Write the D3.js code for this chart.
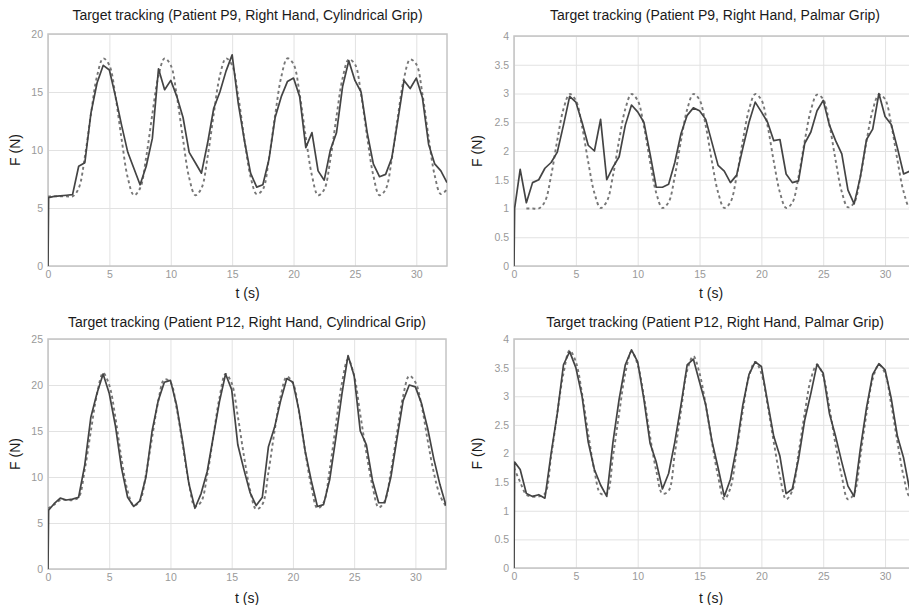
<!DOCTYPE html>
<html>
<head>
<meta charset="utf-8">
<script src="https://cdn.jsdelivr.net/npm/d3@7"></script>
<style>
  body { margin: 0; background: #fff; }
</style>
</head>
<body>
<svg id="chart" width="909" height="605"></svg>
<script>
const titles = [
  "Target tracking (Patient P9, Right Hand, Cylindrical Grip)",
  "Target tracking (Patient P9, Right Hand, Palmar Grip)",
  "Target tracking (Patient P12, Right Hand, Cylindrical Grip)",
  "Target tracking (Patient P12, Right Hand, Palmar Grip)"
];
const xTicks = [0, 5, 10, 15, 20, 25, 30];
const yTicksP9Cyl = [0, 5, 10, 15, 20];
const yTicksP12Cyl = [0, 5, 10, 15, 20, 25];
const yTicksPalmar = [0, 0.5, 1, 1.5, 2, 2.5, 3, 3.5, 4];

// sample times (s)
const tTarget = [0, 0.5, 1, 1.5, 2, 2.5, 3, 3.5, 4, 4.5, 5, 5.5, 6, 6.5, 7, 7.5, 8, 8.5, 9, 9.5,
  10, 10.5, 11, 11.5, 12, 12.5, 13, 13.5, 14, 14.5, 15, 15.5, 16, 16.5, 17, 17.5, 18, 18.5, 19, 19.5,
  20, 20.5, 21, 21.5, 22, 22.5, 23, 23.5, 24, 24.5, 25, 25.5, 26, 26.5, 27, 27.5, 28, 28.5, 29, 29.5,
  30, 30.5, 31, 31.5, 32, 32.5];
const tMeasured = [0, 0.05].concat(tTarget.slice(1));

// P9 cylindrical
const targetP9Cyl = [6.0, 6.0, 6.0, 6.0, 6.0,
  6.7, 9.4, 13.1, 16.4, 17.9, 17.3, 14.6, 10.9, 7.6, 6.1,
  6.7, 9.4, 13.1, 16.4, 17.9, 17.3, 14.6, 10.9, 7.6, 6.1,
  6.7, 9.4, 13.1, 16.4, 17.9, 17.3, 14.6, 10.9, 7.7, 6.2,
  6.6, 9.3, 13.0, 16.3, 17.9, 17.4, 14.8, 11.1, 7.8, 6.1,
  6.6, 9.2, 12.9, 16.2, 17.8, 17.4, 14.8, 11.1, 7.8, 6.1,
  6.6, 9.2, 12.9, 16.2, 17.8, 17.4, 14.8, 11.1, 7.8, 6.2,
  6.6];
const measuredP9Cyl = [0, 5.9, 6.0, 6.05, 6.1, 6.15, 8.6, 8.9, 13.2, 15.8, 17.3, 16.9, 14.6, 12.1, 9.8, 8.4,
  7.0, 8.6, 11.0, 17.0, 15.2, 16.0, 14.6, 12.8, 9.8, 8.9, 8.0, 10.6, 13.6, 15.0, 16.8, 18.2, 14.0, 10.8,
  8.0, 6.8, 7.0, 9.2, 12.8, 14.6, 15.9, 16.2, 14.6, 10.2, 11.5, 8.2, 7.4, 10.0, 11.5, 15.5, 17.7, 16.0,
  15.0, 11.5, 8.8, 7.7, 7.9, 9.3, 12.6, 16.0, 15.3, 16.2, 14.5, 10.5, 8.8, 8.2, 7.2];

// P9 palmar
const targetP9Pal = [null, null, 1.0, 1.0, 1.0,
  1.12, 1.57, 2.19, 2.73, 2.99, 2.88, 2.43, 1.81, 1.27, 1.01,
  1.12, 1.57, 2.19, 2.73, 2.99, 2.88, 2.43, 1.81, 1.27, 1.01,
  1.11, 1.56, 2.18, 2.72, 2.99, 2.89, 2.44, 1.82, 1.28, 1.01,
  1.11, 1.56, 2.18, 2.72, 2.99, 2.89, 2.44, 1.82, 1.28, 1.01,
  1.1, 1.55, 2.17, 2.71, 2.98, 2.9, 2.46, 1.84, 1.29, 1.02,
  1.1, 1.55, 2.17, 2.71, 2.98, 2.9, 2.46, 1.84, 1.29, 1.02,
  1.1];
const measuredP9Pal = [0, 1.0, 1.68, 1.1, 1.45, 1.5, 1.7, 1.8, 1.98, 2.45, 2.95, 2.85, 2.5, 2.1, 2.0, 2.55,
  1.5, 1.72, 1.9, 2.45, 2.8, 2.68, 2.5, 1.95, 1.37, 1.37, 1.42, 1.8, 2.3, 2.62, 2.75, 2.7, 2.55, 2.15,
  1.75, 1.65, 1.45, 1.58, 2.05, 2.5, 2.85, 2.68, 2.5, 2.18, 2.2, 1.6, 1.45, 1.48, 2.13, 2.33, 2.7, 2.88,
  2.45, 2.18, 1.95, 1.32, 1.08, 1.55, 2.2, 2.38, 3.0, 2.6, 2.46, 2.05, 1.6, 1.65, 1.4];

// P12 cylindrical
const targetP12Cyl = [6.6, 7.0, 7.5, 7.5, 7.5,
  7.8, 10.8, 15.0, 19.0, 21.3, 20.0, 16.5, 12.0, 8.5, 6.9,
  7.4, 10.3, 14.3, 18.2, 20.6, 20.3, 17.5, 13.5, 9.4, 6.8,
  7.3, 10.2, 14.4, 18.6, 21.2, 20.2, 16.6, 12.3, 8.6, 6.5,
  7.0, 10.5, 15.0, 18.8, 20.9, 20.2, 17.0, 12.8, 9.0, 6.6,
  7.2, 10.8, 15.6, 20.2, 22.8, 21.0, 16.8, 12.6, 9.0, 6.7,
  7.4, 10.6, 14.8, 18.8, 21.0, 20.3, 17.8, 14.0, 10.5, 8.0,
  6.8];
const measuredP12Cyl = [0, 6.4, 7.1, 7.7, 7.5, 7.6, 7.8, 11.3, 16.5, 19.1, 21.2, 19.1, 15.6, 11.0, 7.8, 6.8,
  7.4, 10.0, 15.0, 18.3, 20.3, 20.5, 17.8, 13.8, 9.3, 6.6, 8.2, 10.6, 14.4, 18.2, 21.2, 19.5, 13.5, 10.8,
  8.3, 6.9, 7.8, 13.3, 15.4, 18.3, 20.7, 20.3, 17.2, 12.8, 9.6, 6.8, 7.0, 9.7, 14.2, 19.0, 23.2, 21.0,
  15.0, 13.5, 9.6, 7.2, 7.2, 10.0, 14.2, 18.3, 20.0, 19.8, 18.0, 15.3, 12.0, 9.2, 6.9];

// P12 palmar
const targetP12Pal = [1.75, 1.5, 1.28, 1.25, 1.25,
  1.3, 1.95, 2.7, 3.4, 3.8, 3.6, 3.05, 2.35, 1.7, 1.3,
  1.3, 1.95, 2.7, 3.4, 3.78, 3.55, 3.0, 2.3, 1.7, 1.3,
  1.35, 2.0, 2.75, 3.45, 3.7, 3.4, 2.85, 2.2, 1.6, 1.2,
  1.4, 2.05, 2.75, 3.35, 3.6, 3.4, 2.85, 2.2, 1.6, 1.2,
  1.35, 2.0, 2.7, 3.3, 3.55, 3.35, 2.8, 2.15, 1.6, 1.2,
  1.3, 1.95, 2.7, 3.3, 3.55, 3.4, 2.85, 2.2, 1.6, 1.25,
  1.3];
const measuredP12Pal = [0, 1.85, 1.72, 1.3, 1.25, 1.28, 1.22, 2.0, 2.7, 3.55, 3.78, 3.5, 3.0, 2.2, 1.72, 1.45,
  1.25, 2.2, 2.95, 3.55, 3.81, 3.6, 2.95, 2.18, 1.85, 1.38, 1.65, 2.2, 2.85, 3.55, 3.65, 3.25, 2.85, 2.22,
  1.75, 1.25, 1.55, 2.12, 2.85, 3.38, 3.6, 3.52, 2.9, 2.3, 1.95, 1.3, 1.38, 1.9, 2.58, 3.05, 3.56, 3.4,
  2.7, 2.3, 1.85, 1.43, 1.25, 2.08, 2.8, 3.38, 3.57, 3.46, 2.96, 2.3, 1.92, 1.35, 1.2];

const panels = [
  { title: titles[0], left: 48, top: 34, width: 399, height: 232, yTicks: yTicksP9Cyl, target: targetP9Cyl, measured: measuredP9Cyl, titleY: 20, labelY: 298, ylabelX: 15 },
  { title: titles[1], left: 514, top: 36, width: 402, height: 230, yTicks: yTicksPalmar, target: targetP9Pal, measured: measuredP9Pal, titleY: 20, labelY: 298, ylabelX: 477 },
  { title: titles[2], left: 48, top: 339, width: 398, height: 230, yTicks: yTicksP12Cyl, target: targetP12Cyl, measured: measuredP12Cyl, titleY: 327, labelY: 603, ylabelX: 15 },
  { title: titles[3], left: 514, top: 339, width: 402, height: 229, yTicks: yTicksPalmar, target: targetP12Pal, measured: measuredP12Pal, titleY: 327, labelY: 603, ylabelX: 477 }
];

const svg = d3.select("#chart");
const font = "'Liberation Sans', Arial, Helvetica, sans-serif";

panels.forEach((p, i) => {
  const x = d3.scaleLinear().domain([0, 32.5]).range([0, p.width]);
  const y = d3.scaleLinear().domain([0, d3.max(p.yTicks)]).range([p.height, 0]);

  const g = svg.append("g").attr("transform", `translate(${p.left}, ${p.top})`);

  svg.append("clipPath").attr("id", "clip" + i)
    .append("rect").attr("width", p.width).attr("height", p.height);

  // grid + tick labels
  g.append("g")
    .attr("transform", `translate(0, ${p.height})`)
    .call(d3.axisBottom(x).tickValues(xTicks).tickSize(-p.height).tickPadding(5).tickFormat(d3.format("d")))
    .call(a => a.select(".domain").remove())
    .call(a => a.selectAll(".tick line").attr("stroke", "#e2e2e2"))
    .call(a => a.selectAll("text").attr("fill", "#999").attr("font-size", 10.5).attr("font-family", font));

  g.append("g")
    .call(d3.axisLeft(y).tickValues(p.yTicks).tickSize(-p.width).tickPadding(5).tickFormat(d => String(d)))
    .call(a => a.select(".domain").remove())
    .call(a => a.selectAll(".tick line").attr("stroke", "#e2e2e2"))
    .call(a => a.selectAll("text").attr("fill", "#999").attr("font-size", 10.5).attr("font-family", font));

  g.append("rect")
    .attr("width", p.width)
    .attr("height", p.height)
    .attr("fill", "none")
    .attr("stroke", "#c4c4c4")
    .attr("stroke-width", 1.5);

  const lines = g.append("g").attr("clip-path", `url(#clip${i})`);

  const targetLine = d3.line()
    .defined(d => d[1] != null)
    .x(d => x(d[0]))
    .y(d => y(d[1]))
    .curve(d3.curveCatmullRom);

  const measuredLine = d3.line()
    .x(d => x(d[0]))
    .y(d => y(d[1]));

  lines.append("path")
    .datum(tTarget.map((t, k) => [t, p.target[k]]))
    .attr("d", targetLine)
    .attr("fill", "none")
    .attr("stroke", "#777")
    .attr("stroke-width", 1.9)
    .attr("stroke-dasharray", "3,3");

  lines.append("path")
    .datum(tMeasured.map((t, k) => [t, p.measured[k]]))
    .attr("d", measuredLine)
    .attr("fill", "none")
    .attr("stroke", "#444")
    .attr("stroke-width", 1.7)
    .attr("stroke-linejoin", "round");

  // titles and axis labels
  svg.append("text")
    .attr("x", p.left + p.width / 2)
    .attr("y", p.titleY)
    .attr("text-anchor", "middle")
    .attr("font-family", font)
    .attr("font-size", 14)
    .attr("fill", "#1a1a1a")
    .text(p.title);

  svg.append("text")
    .attr("x", p.left + p.width / 2 - (i % 2 ? 4 : 0))
    .attr("y", p.labelY)
    .attr("text-anchor", "middle")
    .attr("font-family", font)
    .attr("font-size", 14)
    .attr("fill", "#1a1a1a")
    .text("t (s)");

  svg.append("text")
    .attr("transform", `translate(${p.ylabelX}, ${p.top + p.height / 2}) rotate(-90)`)
    .attr("dy", "0.35em")
    .attr("text-anchor", "middle")
    .attr("font-family", font)
    .attr("font-size", 14)
    .attr("fill", "#1a1a1a")
    .text("F (N)");
});
</script>
</body>
</html>
